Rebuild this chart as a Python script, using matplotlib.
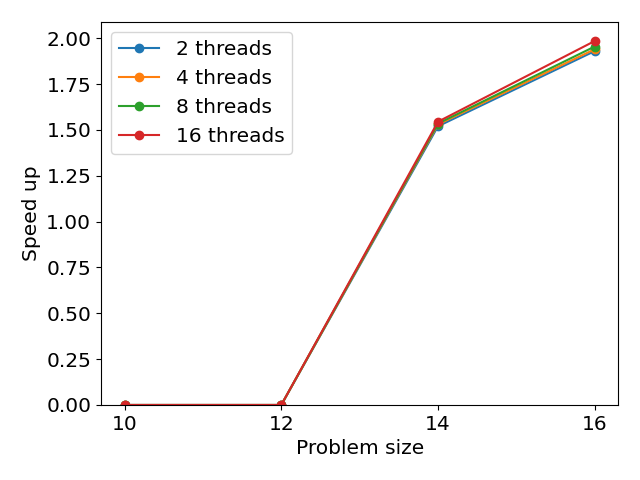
import matplotlib
matplotlib.use('Agg')
import matplotlib.pyplot as plt
from matplotlib import rcParams
rcParams['font.size'] = 14.5

sizes = [10, 12, 14, 16]
speedup_2 = [0.0, 0.0, 1.52, 1.93]
speedup_4 = [0.0, 0.0, 1.53, 1.94]
speedup_8 = [0.0, 0.0, 1.535, 1.955]
speedup_16 = [0.0, 0.0, 1.545, 1.985]
yticks = [0.0, 0.25, 0.5, 0.75, 1.0, 1.25, 1.5, 1.75, 2.0]

fig, ax = plt.subplots(figsize=(6.4, 4.8), dpi=100)
ax.plot(sizes, speedup_2, marker='o', label='2 threads')
ax.plot(sizes, speedup_4, marker='o', label='4 threads')
ax.plot(sizes, speedup_8, marker='o', label='8 threads')
ax.plot(sizes, speedup_16, marker='o', label='16 threads')
ax.set_xticks(sizes)
ax.set_yticks(yticks)
ax.set_ylim(0, 2.09)
ax.set_xlabel('Problem size')
ax.set_ylabel('Speed up')
ax.legend()
fig.tight_layout()
fig.savefig('out.png')
